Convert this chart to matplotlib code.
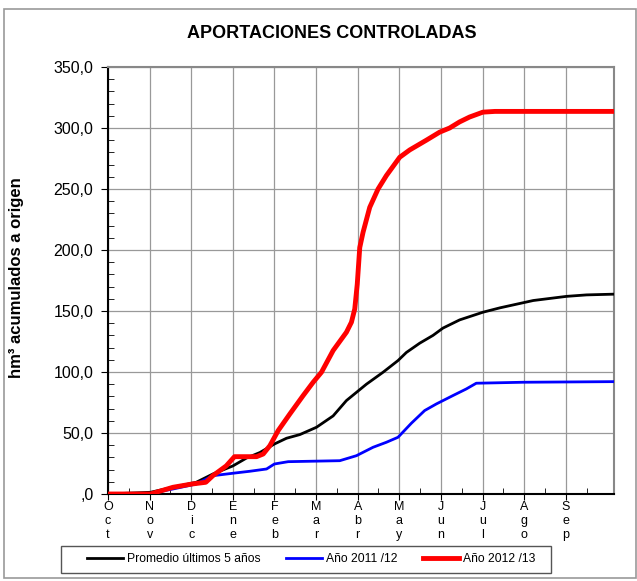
import matplotlib
matplotlib.use('Agg')
import matplotlib.pyplot as plt
from matplotlib.patches import Rectangle
import numpy as np

plt.rcParams['font.family'] = ['Liberation Sans', 'DejaVu Sans']

# month labels (hydrological year Oct -> Sep)
months = ['Oct', 'Nov', 'Dic', 'Ene', 'Feb', 'Mar', 'Abr', 'May', 'Jun', 'Jul', 'Ago', 'Sep']

# x in months since 1 Oct, y in hm3 accumulated
x_prom = [0, 1.02, 1.56, 2.12, 2.52, 3.0, 3.33, 3.65, 4.0, 4.29, 4.61, 5.01, 5.41, 5.73,
          6.21, 6.61, 6.97, 7.17, 7.49, 7.81, 8.05, 8.45, 9.01, 9.42, 10.22, 11.02, 11.5, 12.16]
y_prom = [0, 1.4, 5.5, 9.6, 16.4, 23, 29.5, 34, 41, 45.7, 48.7, 54.7, 64, 76.6,
          90, 99.8, 109.4, 116, 123.6, 130, 136, 142.7, 149, 152.6, 158.6, 162, 163.2, 163.8]

x_1112 = [0, 1.02, 1.56, 2.12, 2.52, 3.0, 3.4, 3.81, 4.0, 4.33, 5.57, 5.97, 6.37, 6.69,
          6.97, 7.29, 7.61, 7.89, 8.29, 8.61, 8.85, 9.98, 12.16]
y_1112 = [0, 0.5, 4.1, 8.2, 15, 17, 18.6, 20.5, 24.6, 26.5, 27.3, 31.4, 38.3, 42.4,
          46.5, 58, 68.4, 73.8, 80.7, 86.1, 90.8, 91.6, 92.1]

x_1213 = [0, 1.02, 1.56, 2.02, 2.35, 2.52, 2.84, 3.04, 3.57, 3.73, 3.89, 4.09, 4.37, 4.69,
          4.93, 5.13, 5.41, 5.73, 5.85, 5.93, 5.99, 6.05, 6.13, 6.29, 6.49, 6.69, 7.01,
          7.25, 7.65, 7.97, 8.21, 8.45, 8.69, 9.01, 9.3, 12.16]
y_1213 = [0, 0, 5.5, 8.2, 9.6, 15, 23, 30.6, 30.6, 32.8, 39.6, 52, 65.6, 80.7,
          91.6, 99.8, 117.6, 132.6, 140.8, 151.7, 172, 202, 214.6, 235, 250, 261, 276,
          282, 290, 296.6, 300, 305, 309, 313, 313.6, 313.6]

W, H = 637, 581
fig = plt.figure(figsize=(W / 100, H / 100), dpi=100)
ax = fig.add_axes([108 / W, 1 - 494 / H, 506 / W, 427 / H])

# outer frame of the chart
fig.patches.append(Rectangle((4 / W, 3 / H), 1 - 5 / W, 1 - 12 / H,
                             transform=fig.transFigure, fill=False,
                             edgecolor='#999999', linewidth=1.2))

ax.plot(x_prom, y_prom, color='black', lw=2, label='Promedio últimos 5 años', zorder=3)
ax.plot(x_1112, y_1112, color='#0000ff', lw=2, label='Año 2011 /12', zorder=3)
ax.plot(x_1213, y_1213, color='#ff0000', lw=3.5, label='Año 2012 /13', zorder=4)

ax.set_xlim(0, 12.16)
ax.set_ylim(0, 350)

ax.set_xticks(np.arange(12))
ax.set_xticklabels(['\n'.join(m) for m in months], fontsize=9, linespacing=1.25)
ax.set_xticks(np.arange(12) + 0.5, minor=True)
ax.set_yticks(np.arange(0, 351, 50))
ax.set_yticklabels([',0'] + ['%d,0' % v for v in range(50, 351, 50)], fontsize=11.5)
ax.set_yticks(np.arange(0, 351, 10), minor=True)

ax.tick_params(axis='x', which='major', direction='out', length=4, pad=1)
ax.tick_params(axis='x', which='minor', direction='in', length=4)
ax.tick_params(axis='y', which='major', direction='out', length=5, pad=5.5)
ax.tick_params(axis='y', which='minor', direction='in', length=4)

ax.grid(True, which='major', color='#999999', lw=0.9)
ax.set_axisbelow(True)
for s in ax.spines.values():
    s.set_linewidth(1.5)
    s.set_color('black')
ax.spines['top'].set_color('#888888')
ax.spines['right'].set_color('#888888')

fig.text(17 / W, 1 - 277.5 / H, 'hm³ acumulados a origen', rotation=90,
         ha='center', va='center', fontsize=12, fontweight='bold')
fig.text(332 / W, 1 - 33 / H, 'APORTACIONES CONTROLADAS', ha='center', va='center',
         fontsize=13, fontweight='bold')

# legend box drawn by hand, entries without frame
fig.patches.append(Rectangle((61 / W, 1 - 573 / H), 490 / W, 27 / H,
                             transform=fig.transFigure, fill=False,
                             edgecolor='#555555', linewidth=1))
leg = fig.legend(loc='center left', bbox_to_anchor=(87 / W, 1 - 559.5 / H), ncol=3,
                 fontsize=8.7, frameon=False, borderaxespad=0, borderpad=0,
                 handlelength=3.0, columnspacing=2.07, handletextpad=0.33)

fig.savefig('out.png', dpi=100)
